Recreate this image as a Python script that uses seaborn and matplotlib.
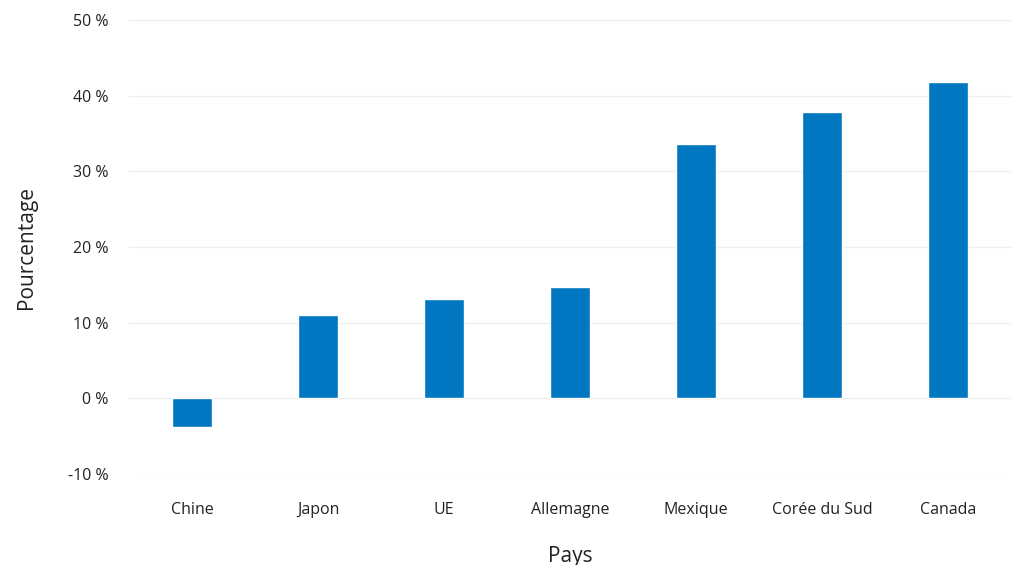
import matplotlib
matplotlib.use("Agg")
import matplotlib.pyplot as plt
import seaborn as sns
import pandas as pd
from matplotlib.ticker import FuncFormatter

pays = ["Chine", "Japon", "UE", "Allemagne", "Mexique", "Corée du Sud", "Canada"]
pourcentage = [-3.8, 11.0, 13.1, 14.7, 33.6, 37.8, 41.8]

sns.set_theme(style="white")
plt.rcParams["font.family"] = ["Open Sans", "DejaVu Sans"]

df = pd.DataFrame({"Pays": pays, "Pourcentage": pourcentage})

fig = plt.figure(figsize=(10.11, 5.65), dpi=100)
ax = fig.add_axes([0.1276, 0.161, 0.8724, 0.8036])

sns.barplot(data=df, x="Pays", y="Pourcentage", color="#0077C0",
            saturation=1, width=0.32, ax=ax, zorder=3)

ax.set_ylim(-10, 50)
ax.set_xlim(-0.5, 6.5)
ax.set_yticks(range(-10, 51, 10))
ax.yaxis.set_major_formatter(FuncFormatter(lambda v, _: f"{int(v)} %"))
ax.grid(axis="y", color="#eeeeee", linewidth=1, zorder=0)
for s in ax.spines.values():
    s.set_visible(False)
ax.tick_params(axis="both", length=0, labelsize=11.5, colors="#222222")
ax.tick_params(axis="y", pad=15)
ax.tick_params(axis="x", pad=20)
ax.set_xlabel("Pays", fontsize=15, labelpad=20, color="#222222")
ax.set_ylabel("Pourcentage", fontsize=15, labelpad=22, color="#222222")

fig.savefig("out.png", dpi=100)
